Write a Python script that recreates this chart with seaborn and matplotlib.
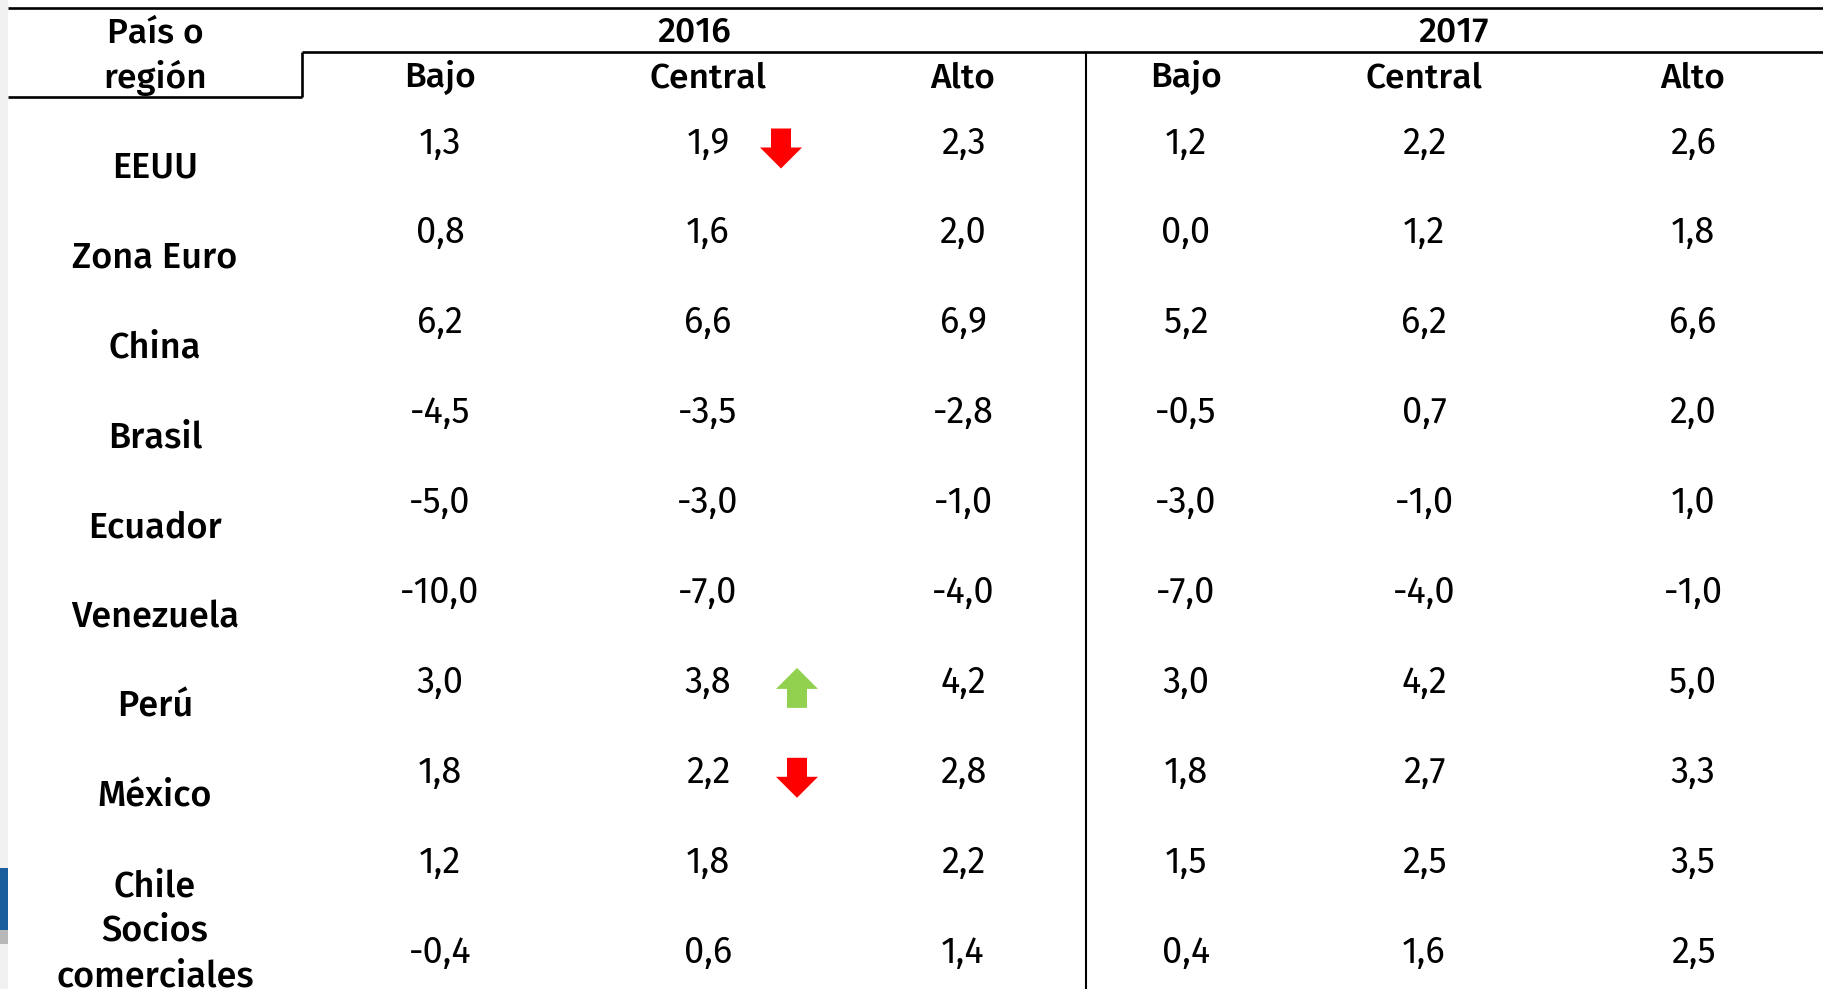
import numpy as np
import pandas as pd
import matplotlib
matplotlib.use("Agg")
import matplotlib.pyplot as plt
import seaborn as sns
from matplotlib.path import Path
from matplotlib.patches import Rectangle

# ---------------- data ----------------
regions = ["EEUU", "Zona Euro", "China", "Brasil", "Ecuador", "Venezuela",
           "Perú", "México", "Chile", "Socios\ncomerciales"]
years = ["2016", "2017"]
scenarios = ["Bajo", "Central", "Alto"]
bajo_2016 = [1.3, 0.8, 6.2, -4.5, -5.0, -10.0, 3.0, 1.8, 1.2, -0.4]
central_2016 = [1.9, 1.6, 6.6, -3.5, -3.0, -7.0, 3.8, 2.2, 1.8, 0.6]
alto_2016 = [2.3, 2.0, 6.9, -2.8, -1.0, -4.0, 4.2, 2.8, 2.2, 1.4]
bajo_2017 = [1.2, 0.0, 5.2, -0.5, -3.0, -7.0, 3.0, 1.8, 1.5, 0.4]
central_2017 = [2.2, 1.2, 6.2, 0.7, -1.0, -4.0, 4.2, 2.7, 2.5, 1.6]
alto_2017 = [2.6, 1.8, 6.6, 2.0, 1.0, -1.0, 5.0, 3.3, 3.5, 2.5]
header_label = "País o\nregión"
revision_regions = ["EEUU", "Perú", "México"]
revision_dir = ["down", "up", "down"]

columns = [bajo_2016, central_2016, alto_2016, bajo_2017, central_2017, alto_2017]

# ---------------- layout (pixel units) ----------------
W, H = 1823, 989
col_x = [440, 708, 963, 1186, 1424, 1693]
label_x = 155
year_x = [694, 1454]
row_h = 89.9
num_base0 = 153.5        # baseline of first row of numbers
lab_base0 = 177.5        # baseline of first row label (last line)
line_gap = 46            # spacing between lines of a label
year_base = 41
sub_base = 87
head_lab_base = 87.5
arrow_dx = [73, 89, 89]
FONT = ["Fira Sans", "DejaVu Sans"]
FS_NUM = 26
FS_LAB = 26
FS_HEAD = 25.5
W_LAB = 500

sns.set_theme(style="white")
plt.rcParams["font.family"] = FONT

fig = plt.figure(figsize=(W / 100, H / 100), dpi=100)
ax = fig.add_axes([0, 0, 1, 1])
ax.set_xlim(0, W)
ax.set_ylim(H, 0)
ax.axis("off")

# left screenshot strip
ax.add_patch(Rectangle((0, 0), 8, H, color="#f1f1f1", lw=0))
ax.add_patch(Rectangle((0, 868), 8, 62, color="#1b5e9e", lw=0))
ax.add_patch(Rectangle((0, 930), 8, 14, color="#b8b8b8", lw=0))

lw = 1.9
ax.plot([8, W], [8, 8], color="black", lw=lw, solid_capstyle="butt")
ax.plot([302, W], [52, 52], color="black", lw=lw, solid_capstyle="butt")
ax.plot([302, 302], [52, 97], color="black", lw=lw, solid_capstyle="butt")
ax.plot([8, 302], [97, 97], color="black", lw=lw, solid_capstyle="butt")
ax.plot([1086, 1086], [52, H], color="black", lw=1.5, solid_capstyle="butt")


def put_lines(x, base, text, size, weight, gap=line_gap):
    lines = text.split("\n")
    n = len(lines)
    for k, line in enumerate(lines):
        ax.text(x, base - (n - 1 - k) * gap, line, ha="center", va="baseline",
                fontsize=size, fontweight=weight, color="black")


put_lines(label_x, head_lab_base, header_label, FS_HEAD, W_LAB, gap=45)
for yr, x in zip(years, year_x):
    put_lines(x, year_base, yr, FS_HEAD, W_LAB)
for j, x in enumerate(col_x):
    put_lines(x, sub_base, scenarios[j % 3], FS_HEAD, W_LAB)


def fmt(v):
    return f"{v:.1f}".replace(".", ",")


for i, reg in enumerate(regions):
    put_lines(label_x, lab_base0 + i * row_h, reg, FS_LAB, W_LAB)
    for j, col in enumerate(columns):
        put_lines(col_x[j], num_base0 + i * row_h, fmt(col[i]), FS_NUM, 400)

# revision arrows
down_verts = [(-0.5, 1), (0.5, 1), (0.5, 0.05), (1.05, 0.05), (0, -1),
              (-1.05, 0.05), (-0.5, 0.05), (-0.5, 1)]
up_verts = [(x, -y) for x, y in down_verts]
down_path = Path(down_verts, closed=True)
up_path = Path(up_verts, closed=True)

arr = pd.DataFrame({
    "x": [col_x[1] + d for d in arrow_dx],
    "y": [155.5 - 7 + regions.index(r) * row_h for r in revision_regions],
    "dir": revision_dir,
})
sns.scatterplot(data=arr, x="x", y="y", hue="dir", style="dir",
                markers={"down": down_path, "up": up_path},
                palette={"down": "#FF0000", "up": "#92D050"},
                s=914, linewidth=0, legend=False, ax=ax)
ax.set_xlim(0, W)
ax.set_ylim(H, 0)
ax.axis("off")

fig.savefig("out.png", dpi=100)
